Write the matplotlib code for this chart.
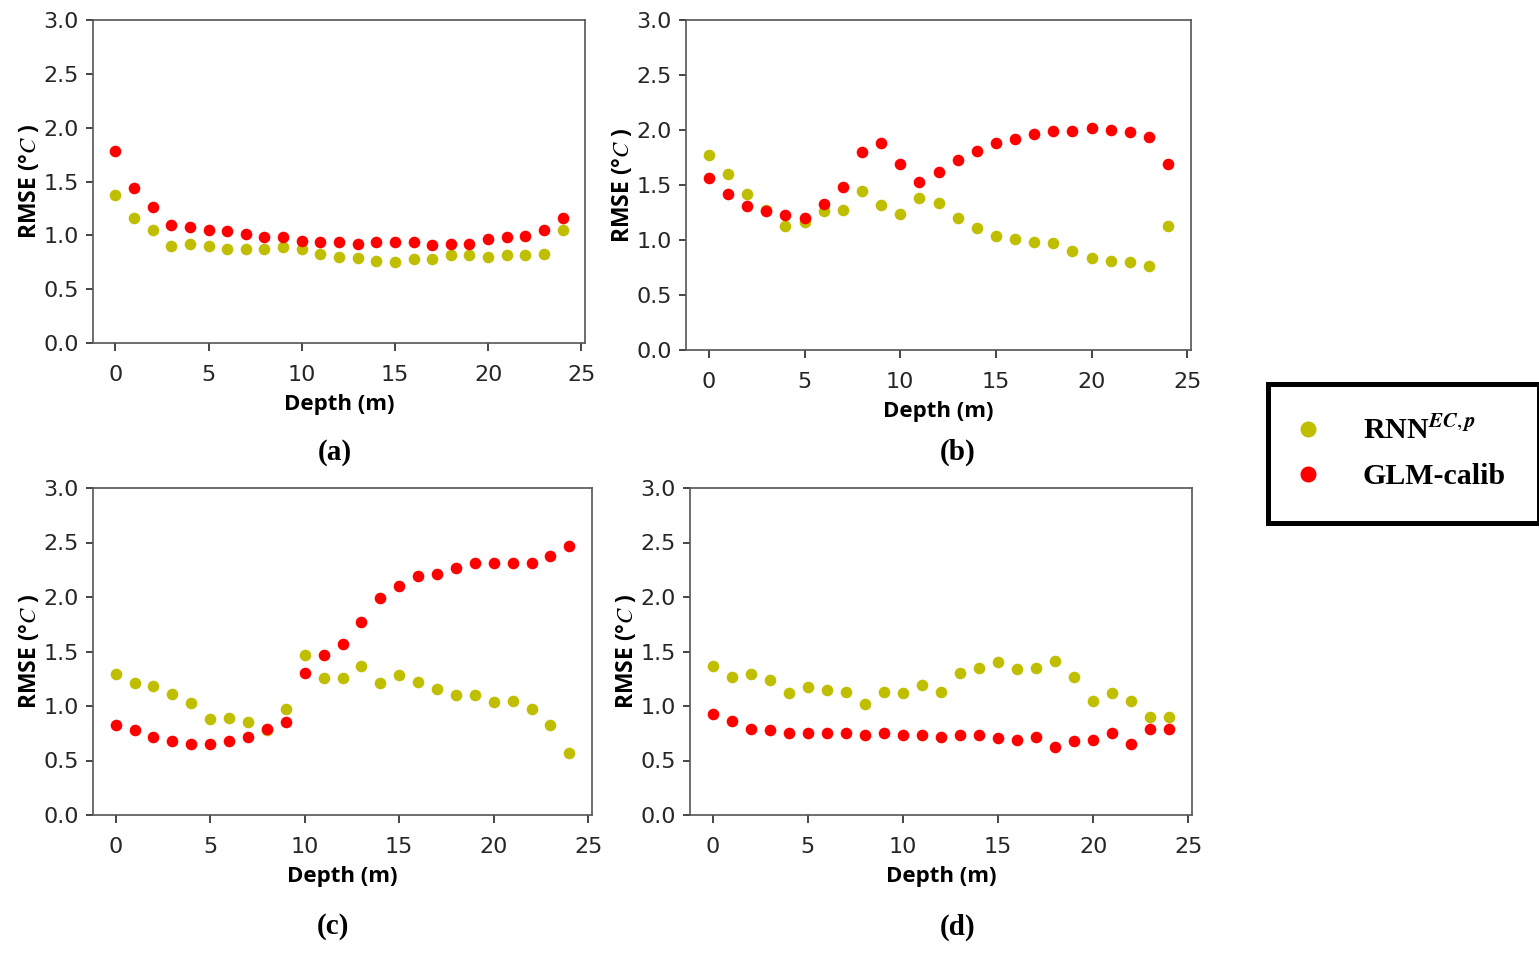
import numpy as np
import matplotlib
matplotlib.use('Agg')
import matplotlib.pyplot as plt
from matplotlib.lines import Line2D

depth = list(range(25))

# panel (a)
rnn_a = [1.37, 1.16, 1.05, 0.90, 0.92, 0.90, 0.87, 0.87, 0.87, 0.89, 0.87, 0.83, 0.80, 0.79, 0.76,
         0.75, 0.78, 0.78, 0.82, 0.82, 0.80, 0.82, 0.82, 0.83, 1.05]
glm_a = [1.78, 1.44, 1.26, 1.10, 1.08, 1.05, 1.04, 1.01, 0.98, 0.98, 0.95, 0.94, 0.94, 0.92, 0.94,
         0.94, 0.94, 0.91, 0.92, 0.92, 0.97, 0.98, 0.99, 1.05, 1.16]
# panel (b)
rnn_b = [1.77, 1.60, 1.42, 1.27, 1.13, 1.16, 1.26, 1.27, 1.45, 1.32, 1.24, 1.38, 1.34, 1.20, 1.11,
         1.04, 1.01, 0.98, 0.97, 0.90, 0.84, 0.81, 0.80, 0.76, 1.13]
glm_b = [1.56, 1.42, 1.31, 1.26, 1.23, 1.20, 1.33, 1.48, 1.80, 1.88, 1.69, 1.53, 1.62, 1.73, 1.81,
         1.88, 1.92, 1.96, 1.99, 1.99, 2.02, 2.00, 1.98, 1.94, 1.69]
# panel (c)
rnn_c = [1.29, 1.21, 1.18, 1.11, 1.03, 0.88, 0.89, 0.85, 0.78, 0.97, 1.47, 1.26, 1.26, 1.37, 1.21,
         1.28, 1.22, 1.16, 1.10, 1.10, 1.04, 1.05, 0.97, 0.83, 0.57]
glm_c = [0.83, 0.78, 0.72, 0.68, 0.65, 0.65, 0.68, 0.72, 0.79, 0.85, 1.30, 1.47, 1.57, 1.77, 1.99,
         2.10, 2.19, 2.21, 2.27, 2.31, 2.31, 2.31, 2.31, 2.38, 2.47]
# panel (d)
rnn_d = [1.37, 1.27, 1.29, 1.24, 1.12, 1.17, 1.15, 1.13, 1.02, 1.13, 1.12, 1.19, 1.13, 1.30, 1.35,
         1.40, 1.34, 1.35, 1.41, 1.27, 1.05, 1.12, 1.05, 0.90, 0.90]
glm_d = [0.93, 0.86, 0.79, 0.78, 0.75, 0.75, 0.75, 0.75, 0.73, 0.75, 0.73, 0.73, 0.72, 0.73, 0.73,
         0.71, 0.69, 0.72, 0.62, 0.68, 0.69, 0.75, 0.65, 0.79, 0.79]

panel_labels = ['(a)', '(b)', '(c)', '(d)']
series_names = ['RNN$^{\\boldsymbol{EC,p}}$', 'GLM-calib']

W, H = 1539, 969
plt.rcParams['mathtext.fontset'] = 'stix'
fig = plt.figure(figsize=(W / 100, H / 100), dpi=100)

# axes boxes in pixels: left, right, top, bottom
boxes = [(93, 585, 20, 343), (686, 1191, 20, 350), (93, 592, 488, 815), (690, 1192, 488, 815)]
label_pos = [(335, 452), (958, 452), (333, 927), (958, 927)]
data = [(rnn_a, glm_a), (rnn_b, glm_b), (rnn_c, glm_c), (rnn_d, glm_d)]

tick_col = '#262626'
for (l, r, t, b), (rnn, glm), lab, (lx, ly) in zip(boxes, data, panel_labels, label_pos):
    ax = fig.add_axes([l / W, 1 - b / H, (r - l) / W, (b - t) / H])
    ax.scatter(depth, rnn, s=70, color='y', linewidths=0, zorder=3)
    ax.scatter(depth, glm, s=70, color='r', linewidths=0, zorder=3)
    ax.set_xlim(-1.2, 25.2)
    ax.set_ylim(0, 3)
    ax.set_xticks([0, 5, 10, 15, 20, 25])
    ax.set_yticks([0, 0.5, 1.0, 1.5, 2.0, 2.5, 3.0])
    ax.set_yticklabels(['0.0', '0.5', '1.0', '1.5', '2.0', '2.5', '3.0'])
    ax.tick_params(labelsize=16, colors=tick_col, width=1.2)
    ax.tick_params(axis='x', length=6, pad=10)
    ax.tick_params(axis='y', length=5, pad=5)
    for sp in ax.spines.values():
        sp.set_color('#555555')
        sp.set_linewidth(1.2)
    ax.set_xlabel('Depth (m)', fontsize=16, fontweight='bold', family='Open Sans', labelpad=6)
    ax.set_ylabel('RMSE (°$C$ )', fontsize=16.5, fontweight='bold', family='Open Sans', labelpad=1)
    fig.text(lx / W, 1 - ly / H, lab, ha='center', va='center', fontsize=21,
             fontweight='bold', family='Liberation Serif')

handles = [Line2D([], [], marker='o', linestyle='none', color='y', markersize=10.5),
           Line2D([], [], marker='o', linestyle='none', color='r', markersize=10.5)]
leg = fig.legend(handles, series_names, loc='upper left', bbox_to_anchor=(1268 / W, 1 - 384 / H),
                 frameon=True, fancybox=False, edgecolor='black', framealpha=1, borderpad=1.1,
                 handletextpad=1.58, labelspacing=0.6, handlelength=0.5, borderaxespad=0,
                 prop={'family': 'Liberation Serif', 'weight': 'bold', 'size': 21.5})
leg.get_frame().set_linewidth(3.6)

fig.savefig('out.png', dpi=100)
